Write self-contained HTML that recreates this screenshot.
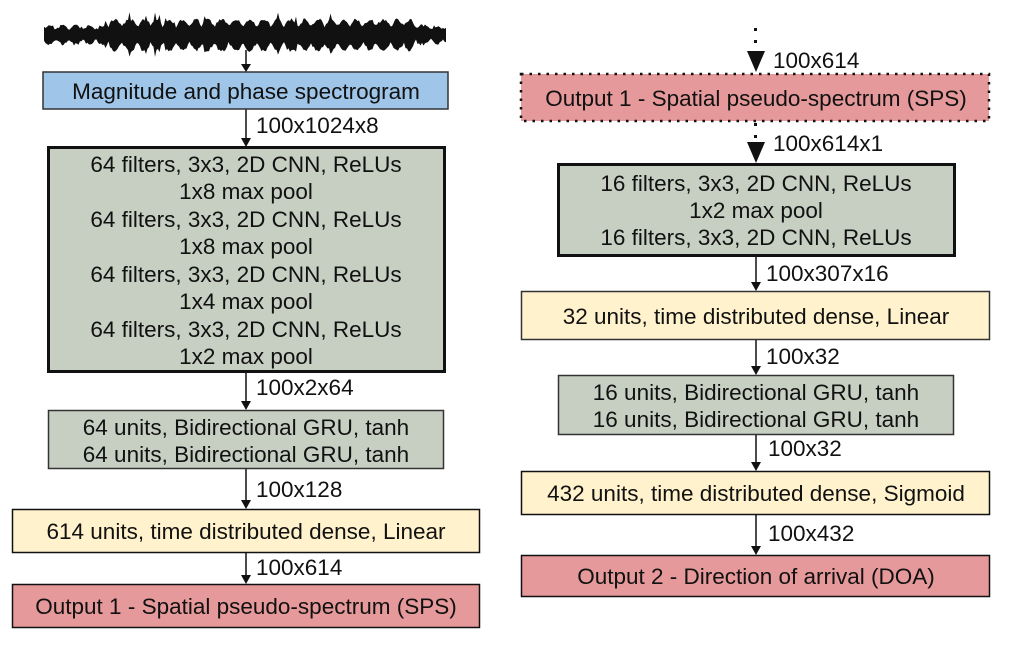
<!DOCTYPE html>
<html><head><meta charset="utf-8"><style>
html,body{margin:0;padding:0;background:#fff;}
svg{display:block;}
text{font-family:"Liberation Sans",Arial,sans-serif;font-size:22.5px;fill:#111;}
</style></head><body>
<svg width="1015" height="651" viewBox="0 0 1015 651" xmlns="http://www.w3.org/2000/svg">
<path id="wave" fill="#111" d=""/>
<g stroke="#111" stroke-width="1.5">
<line x1="246" y1="50" x2="246" y2="66"/>
<line x1="246" y1="109" x2="246" y2="140"/>
<line x1="246" y1="373" x2="246" y2="403"/>
<line x1="246" y1="469" x2="246" y2="502"/>
<line x1="246" y1="553" x2="246" y2="577"/>
<line x1="756" y1="256" x2="756" y2="284"/>
<line x1="756" y1="340" x2="756" y2="368"/>
<line x1="756" y1="435" x2="756" y2="464"/>
<line x1="756" y1="515" x2="756" y2="548"/>
</g>
<g fill="#111">
<path d="M241,64 L251,64 L246,72 Z"/>
<path d="M241,138 L251,138 L246,147 Z"/>
<path d="M241,401 L251,401 L246,410 Z"/>
<path d="M241,500 L251,500 L246,509 Z"/>
<path d="M241,575 L251,575 L246,584 Z"/>
<path d="M751,282 L761,282 L756,291 Z"/>
<path d="M751,366 L761,366 L756,375 Z"/>
<path d="M751,462 L761,462 L756,471 Z"/>
<path d="M751,546 L761,546 L756,555 Z"/>
<rect x="754" y="28" width="3" height="3"/><rect x="754" y="40" width="3" height="3"/>
<path d="M747,51 L765,51 L756,72 Z"/>
<rect x="754" y="123" width="3" height="3"/><rect x="754" y="135" width="3" height="3"/>
<path d="M747,142 L765,142 L756,163 Z"/>
</g>
<rect x="43" y="72" width="405" height="37" fill="#9fc5e8" stroke="#333" stroke-width="1.5"/>
<text x="246" y="99" text-anchor="middle">Magnitude and phase spectrogram</text>
<text x="256" y="133">100x1024x8</text>
<rect x="48.5" y="147.5" width="396" height="224" fill="#c7cfc3" stroke="#111" stroke-width="3"/>
<g text-anchor="middle">
<text x="246" y="172">64 filters, 3x3, 2D CNN, ReLUs</text>
<text x="246" y="199">1x8 max pool</text>
<text x="246" y="227">64 filters, 3x3, 2D CNN, ReLUs</text>
<text x="246" y="254">1x8 max pool</text>
<text x="246" y="282">64 filters, 3x3, 2D CNN, ReLUs</text>
<text x="246" y="309">1x4 max pool</text>
<text x="246" y="337">64 filters, 3x3, 2D CNN, ReLUs</text>
<text x="246" y="364">1x2 max pool</text>
</g>
<text x="256" y="395">100x2x64</text>
<rect x="48.5" y="410.5" width="395" height="58" fill="#c7cfc3" stroke="#333" stroke-width="1.5"/>
<text x="246" y="435" text-anchor="middle">64 units, Bidirectional GRU, tanh</text>
<text x="246" y="462" text-anchor="middle">64 units, Bidirectional GRU, tanh</text>
<text x="256" y="497">100x128</text>
<rect x="12.5" y="509.5" width="467" height="43" fill="#fff2cc" stroke="#111" stroke-width="1.5"/>
<text x="246" y="539" text-anchor="middle">614 units, time distributed dense, Linear</text>
<text x="256" y="575">100x614</text>
<rect x="12.5" y="584.5" width="467" height="43" fill="#e6999a" stroke="#111" stroke-width="1.5"/>
<text x="246" y="614" text-anchor="middle">Output 1 - Spatial pseudo-spectrum (SPS)</text>
<text x="773" y="68">100x614</text>
<rect x="521" y="74" width="468" height="47" fill="#e6999a" stroke="#111" stroke-width="2.5" stroke-dasharray="2.5,6"/>
<text x="756" y="106" text-anchor="middle">Output 1 - Spatial pseudo-spectrum (SPS)</text>
<text x="773" y="151">100x614x1</text>
<rect x="558.5" y="164.5" width="396" height="91" fill="#c7cfc3" stroke="#111" stroke-width="3"/>
<text x="756" y="191" text-anchor="middle">16 filters, 3x3, 2D CNN, ReLUs</text>
<text x="756" y="218" text-anchor="middle">1x2 max pool</text>
<text x="756" y="245" text-anchor="middle">16 filters, 3x3, 2D CNN, ReLUs</text>
<text x="766" y="281">100x307x16</text>
<rect x="521.5" y="291.5" width="468" height="48" fill="#fff2cc" stroke="#333" stroke-width="1.5"/>
<text x="756" y="324" text-anchor="middle">32 units, time distributed dense, Linear</text>
<text x="766" y="364">100x32</text>
<rect x="558.5" y="375.5" width="395" height="59" fill="#c7cfc3" stroke="#333" stroke-width="1.5"/>
<text x="756" y="400" text-anchor="middle">16 units, Bidirectional GRU, tanh</text>
<text x="756" y="427" text-anchor="middle">16 units, Bidirectional GRU, tanh</text>
<text x="768" y="456">100x32</text>
<rect x="521.5" y="471.5" width="468" height="43" fill="#fff2cc" stroke="#111" stroke-width="1.5"/>
<text x="756" y="501" text-anchor="middle">432 units, time distributed dense, Sigmoid</text>
<text x="768" y="541">100x432</text>
<rect x="521.5" y="555.5" width="468" height="41" fill="#e6999a" stroke="#111" stroke-width="1.5"/>
<text x="756" y="584" text-anchor="middle">Output 2 - Direction of arrival (DOA)</text>
</svg>
<script>
(function(){
var s=11;function r(){s=(s*9301+49297)%233280;return s/233280;}
var top=[],bot=[],cy=34,ph=0;
for(var x=44;x<=447;x+=1.5){
 var edge=(x<105||x>415);
 ph+=0.2+r()*0.3;
 var osc=Math.abs(Math.sin(ph));
 var base=edge?3:6;
 var amp=edge?4:7;
 var a=base+amp*osc+r()*3;
 var b=base+1+amp*1.2*osc+r()*3;
 if(!edge&&r()<0.06){a+=6;b+=5;}
 top.push(x.toFixed(1)+","+(cy-a).toFixed(1));bot.unshift(x.toFixed(1)+","+(cy+b).toFixed(1));
}
document.getElementById('wave').setAttribute('d','M'+top.join(' L')+' L'+bot.join(' L')+' Z');
})();
</script>
</body></html>
